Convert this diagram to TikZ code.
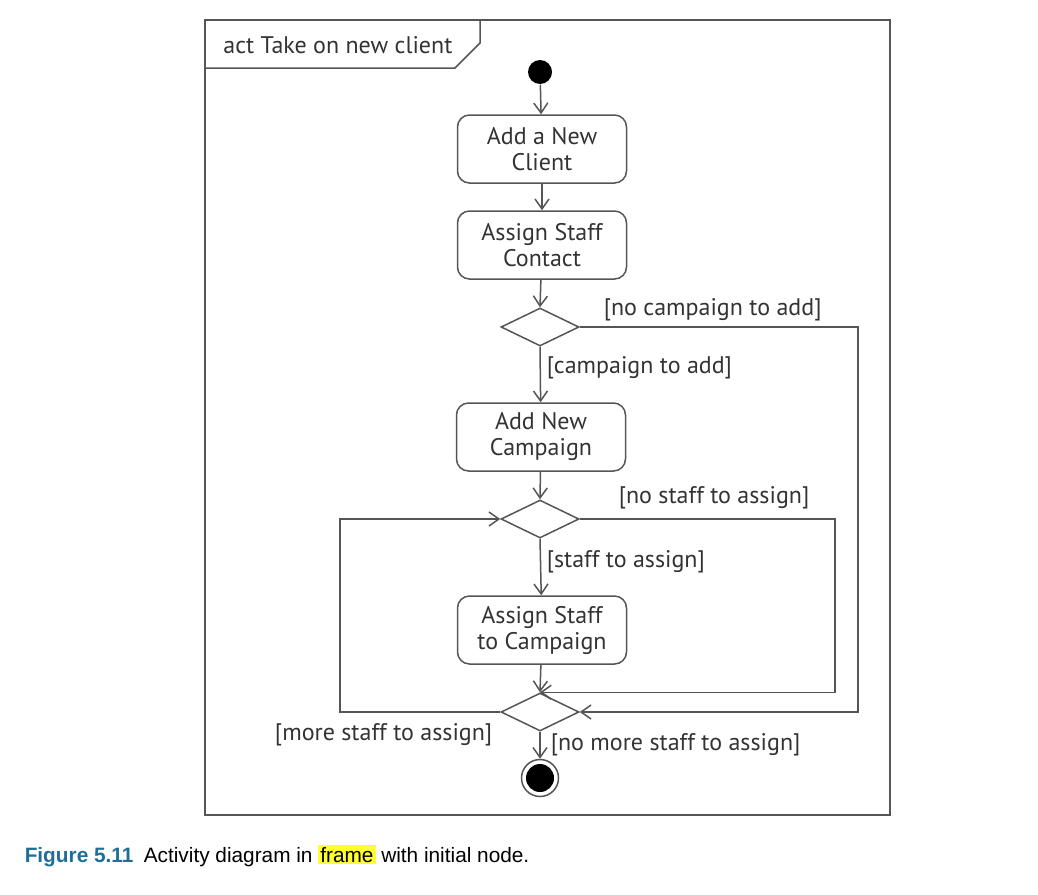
\documentclass[tikz,border=0pt]{standalone}
\usepackage{fontspec}
\setmainfont{PT Sans}
\newfontfamily\capfont{Liberation Sans}
\usetikzlibrary{shapes.geometric,arrows.meta}
\definecolor{umlline}{HTML}{555555}
\definecolor{umltext}{HTML}{333333}
\definecolor{figblue}{HTML}{1F6E99}
\definecolor{hilite}{HTML}{FFFF33}
\tikzset{every picture/.style={line width=0.75pt}}

\begin{document}
\begin{tikzpicture}[x=0.5pt,y=-0.5pt,
  font=\fontsize{12}{13}\selectfont, text=umltext,
  activity/.style={draw=umlline,rounded corners=6pt,minimum width=84.5pt,
    minimum height=34pt,align=center,inner sep=2pt},
  decision/.style={draw=umlline,diamond,minimum width=39pt,minimum height=19pt,inner sep=0pt},
  startnode/.style={circle,fill=black,minimum size=12pt,inner sep=0pt},
  endnode/.style={circle,draw=umlline,minimum size=18.5pt,inner sep=0pt},
  flow/.style={draw=umlline,-{Straight Barb[length=5pt,width=7pt]}},
  guard/.style={inner sep=1pt}]
\useasboundingbox (0,0) rectangle (1038,894);
% frame
\draw[umlline] (205,20) rectangle (890,815);
\draw[umlline] (205,68) -- (455,68) -- (480,43) -- (480,20);
\node[anchor=west] (frametitle) at (216,45) {act Take on new client};
% nodes
\node[startnode] (init) at (540,72) {};
\node[activity] (addclient) at (542,149) {Add a New\\Client};
\node[activity] (assigncontact) at (542,245) {Assign Staff\\Contact};
\node[decision] (campdec) at (540,327) {};
\node[activity] (addcamp) at (541,437) {Add New\\Campaign};
\node[decision] (staffdec) at (540,519) {};
\node[activity] (assigncamp) at (542,630) {Assign Staff\\to Campaign};
\node[decision] (moredec) at (540,712) {};
\node[endnode] (final) at (540,778) {};
\fill[black] (final.center) circle (14);
\coordinate (outerR) at (858,0);
\coordinate (innerR) at (835,0);
\coordinate (leftL) at (340,0);
% flows
\draw[flow] (init) -- (addclient);
\draw[flow] (addclient) -- (assigncontact);
\draw[flow] (assigncontact) -- (campdec.north);
\draw[flow] (campdec.south) -- (addcamp);
\draw[flow] (campdec.east) -- (campdec.east -| outerR) |- (moredec.east);
\draw[flow] (addcamp) -- (staffdec.north);
\draw[flow] (staffdec.south) -- (assigncamp);
\draw[flow] (staffdec.east) -- (staffdec.east -| innerR) |- (moredec.north);
\draw[flow] (assigncamp) -- (moredec.north);
\draw[flow] (moredec.west) -- (moredec.west -| leftL) |- (staffdec.west);
\draw[flow] (moredec.south) -- (final);
% guards
\node[guard,anchor=west] (g1) at (601,310) {[no campaign to add]};
\node[guard,anchor=west] (g2) at (544,368) {[campaign to add]};
\node[guard,anchor=west] (g3) at (616,498) {[no staff to assign]};
\node[guard,anchor=west] (g4) at (544,562) {[staff to assign]};
\node[guard,anchor=east] (g5) at (495,735) {[more staff to assign]};
\node[guard,anchor=west] (g6) at (548,745) {[no more staff to assign]};
% caption
\node[anchor=base west,inner sep=0pt,font=\capfont\fontsize{10.4}{12}\selectfont,text=black] (caption) at (24,862)
  {\textcolor{figblue}{\bfseries Figure 5.11}\enspace Activity diagram in {\setlength{\fboxsep}{1pt}\colorbox{hilite}{frame}} with initial node.};
\end{tikzpicture}
\end{document}
